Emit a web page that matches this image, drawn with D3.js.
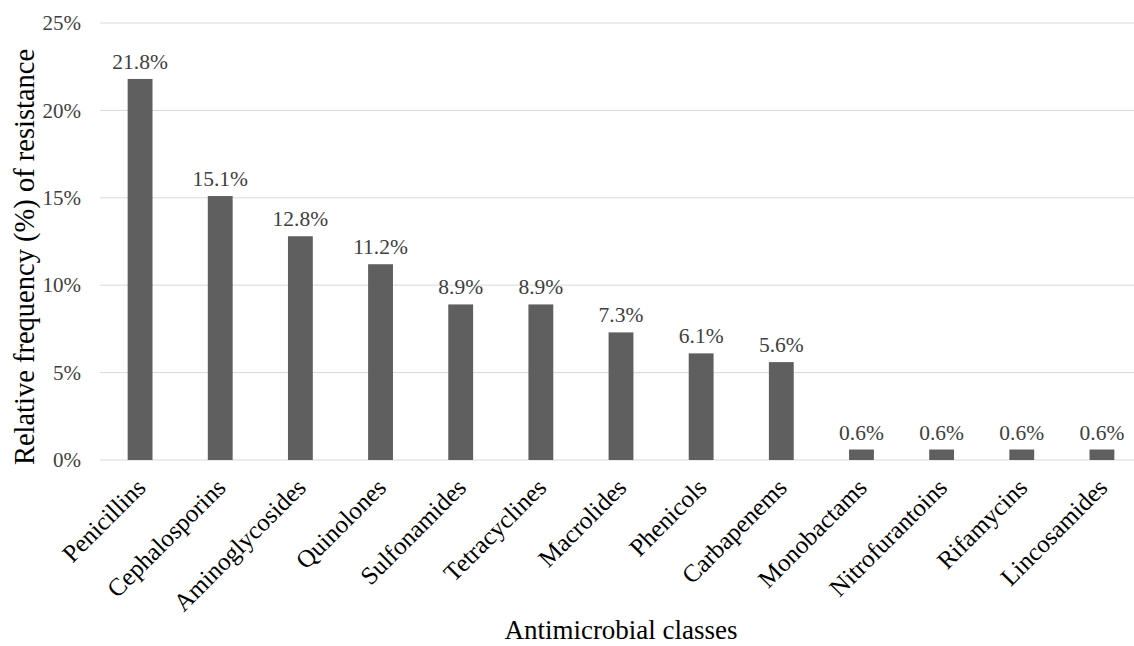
<!DOCTYPE html>
<html><head><meta charset="utf-8">
<script src="https://cdn.jsdelivr.net/npm/d3@7"></script>
<style>body{margin:0;background:#fff}svg{display:block}
svg text{font-family:"Liberation Serif","Times New Roman",Tinos,"DejaVu Serif",serif;}</style>
</head><body><svg id="c" width="1134" height="646"></svg>
<script>
const categories = ["Penicillins","Cephalosporins","Aminoglycosides","Quinolones","Sulfonamides","Tetracyclines","Macrolides","Phenicols","Carbapenems","Monobactams","Nitrofurantoins","Rifamycins","Lincosamides"];
const values = [21.8,15.1,12.8,11.2,8.9,8.9,7.3,6.1,5.6,0.6,0.6,0.6,0.6];
const yTicks = [0,5,10,15,20,25];
const yTitle = "Relative frequency (%) of resistance";
const xTitle = "Antimicrobial classes";

const svg = d3.select("#c");
const x = d3.scaleBand().domain(categories).range([100,1142]).paddingInner(0.69).paddingOuter(0.345);
const y = d3.scaleLinear().domain([0,25]).range([460,23]);

// gridlines
svg.append("g").selectAll("line").data(yTicks).join("line")
  .attr("x1",100).attr("x2",1142).attr("y1",d=>y(d)).attr("y2",d=>y(d))
  .attr("stroke","#d9d9d9").attr("stroke-width",1);

// y axis labels
const ya = svg.append("g").attr("transform","translate(100,0)")
  .call(d3.axisLeft(y).tickValues(yTicks).tickFormat(d=>d+"%").tickSize(0).tickPadding(19));
ya.select(".domain").remove();
ya.attr("font-family",null);
ya.selectAll("text").attr("font-size",21).attr("fill","#404040");

// bars
svg.append("g").selectAll("rect").data(values).join("rect")
  .attr("x",(d,i)=>x(categories[i])).attr("width",x.bandwidth())
  .attr("y",d=>y(d)).attr("height",d=>y(0)-y(d)).attr("fill","#5f5f5f");

// data labels
svg.append("g").selectAll("text").data(values).join("text")
  .attr("x",(d,i)=>x(categories[i])+x.bandwidth()/2).attr("y",d=>y(d)-10)
  .attr("text-anchor","middle").attr("font-size",21.5).attr("fill","#404040")
  .text(d=>d.toFixed(1)+"%");

// x axis labels
const xa = svg.append("g").attr("transform","translate(0,460)")
  .call(d3.axisBottom(x).tickSize(0).tickPadding(0));
xa.select(".domain").remove();
xa.attr("font-family",null);
xa.selectAll("text").attr("font-size",25).attr("fill","#000")
  .attr("text-anchor","end").attr("dy",null).attr("y",0)
  .attr("transform","translate(7,29) rotate(-45)");

// titles
svg.append("text").attr("x",621).attr("y",639).attr("text-anchor","middle")
  .attr("font-size",27).attr("fill","#000").text(xTitle);
svg.append("text").attr("transform","translate(34,257) rotate(-90)").attr("text-anchor","middle")
  .attr("font-size",28.5).attr("fill","#000").text(yTitle);
</script></body></html>
